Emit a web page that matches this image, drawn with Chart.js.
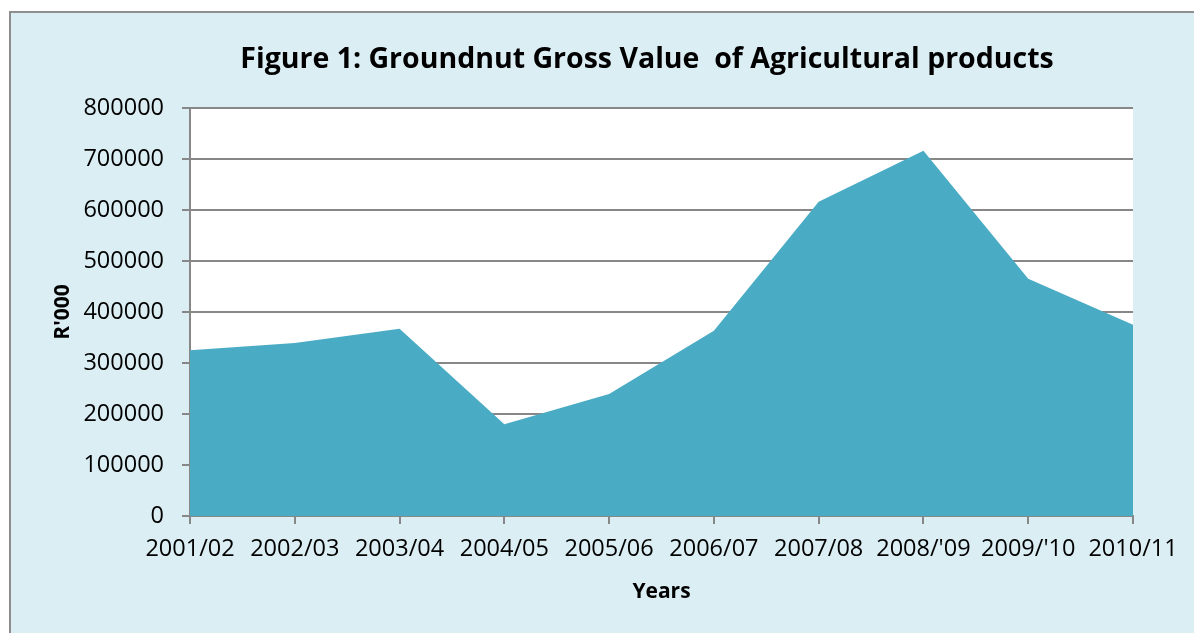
<!DOCTYPE html>
<html>
<head>
<meta charset="utf-8">
<script src="https://cdn.jsdelivr.net/npm/chart.js@4"></script>
<style>
  html, body { margin: 0; padding: 0; background: #ffffff; }
  #wrap { width: 1194px; height: 633px; }
</style>
</head>
<body>
<div id="wrap"><canvas id="chart"></canvas></div>
<script>
// Data
const years = ['2001/02', '2002/03', '2003/04', '2004/05', '2005/06', '2006/07', '2007/08', "2008/'09", "2009/'10", '2010/11'];
const grossValue = [325000, 339000, 367000, 180000, 239000, 363000, 616000, 716000, 465000, 375000];
const yMin = 0;
const yMax = 800000;
const yStep = 100000;

const titleText = 'Figure 1: Groundnut Gross Value  of Agricultural products';
const fontFamily = '"Open Sans", "Liberation Sans", sans-serif';
const gridGray = '#878787';

// frame, plot background and heading
const backdrop = {
    id: 'backdrop',
    beforeDraw(chart) {
        const ctx = chart.ctx;
        const a = chart.chartArea;
        ctx.save();
        ctx.fillStyle = '#ffffff';
        ctx.fillRect(0, 0, chart.width, chart.height);
        ctx.fillStyle = '#dbeef4';
        ctx.fillRect(10, 12, chart.width, chart.height);
        ctx.strokeStyle = '#8e8e8e';
        ctx.lineWidth = 2;
        ctx.strokeRect(10, 12, chart.width + 10, chart.height + 10);
        ctx.fillStyle = '#ffffff';
        ctx.fillRect(a.left, a.top, a.right - a.left, a.bottom - a.top);
        ctx.restore();
    },
    afterDraw(chart) {
        const ctx = chart.ctx;
        ctx.save();
        ctx.fillStyle = '#000000';
        ctx.font = 'bold 28.5px ' + fontFamily;
        ctx.textAlign = 'center';
        ctx.textBaseline = 'middle';
        ctx.fillText(titleText, 647, 60);
        ctx.restore();
    }
};

new Chart(document.getElementById('chart'), {
    type: 'line',
    data: {
        labels: years,
        datasets: [{
            label: "R'000",
            data: grossValue,
            fill: 'origin',
            backgroundColor: '#4aabc5',
            borderWidth: 0,
            borderColor: 'rgba(0,0,0,0)',
            pointRadius: 0,
            tension: 0
        }]
    },
    options: {
        responsive: true,
        maintainAspectRatio: false,
        animation: false,
        layout: {
            padding: { left: 0, top: 108, right: 61, bottom: 0 }
        },
        plugins: {
            legend: { display: false },
            title: { display: false },
            tooltip: { enabled: false }
        },
        scales: {
            x: {
                type: 'category',
                offset: false,
                afterFit(scale) { scale.height = 117; },
                grid: {
                    display: true,
                    drawOnChartArea: false,
                    drawTicks: true,
                    tickLength: 8,
                    color: gridGray,
                    lineWidth: 2
                },
                border: { color: gridGray, width: 2 },
                ticks: {
                    color: '#000000',
                    font: { family: fontFamily, size: 23.5 },
                    padding: 11,
                    maxRotation: 0,
                    autoSkip: false
                },
                title: {
                    display: true,
                    text: 'Years',
                    color: '#000000',
                    font: { family: fontFamily, size: 21, weight: 'bold' },
                    padding: { top: 28, bottom: 28 }
                }
            },
            y: {
                min: yMin,
                max: yMax,
                afterFit(scale) { scale.width = 190; },
                grid: {
                    color: gridGray,
                    lineWidth: 2,
                    drawTicks: true,
                    tickLength: 8
                },
                border: { color: gridGray, width: 2 },
                ticks: {
                    stepSize: yStep,
                    color: '#000000',
                    font: { family: fontFamily, size: 23.5 },
                    padding: 18,
                    callback: v => String(v)
                },
                title: {
                    display: true,
                    text: "R'000",
                    color: '#000000',
                    font: { family: fontFamily, size: 21, weight: 'bold' },
                    padding: { top: 50, bottom: 0 }
                }
            }
        }
    },
    plugins: [backdrop]
});
</script>
</body>
</html>
